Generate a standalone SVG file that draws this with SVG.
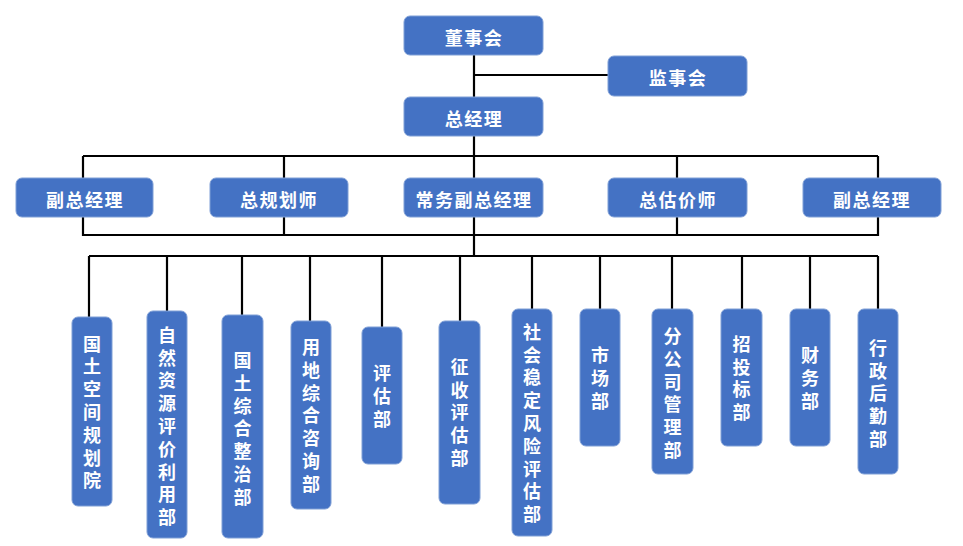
<svg xmlns="http://www.w3.org/2000/svg" width="963" height="546" viewBox="0 0 963 546">
<style>
.box{fill:#4472C4;stroke:#7F9FD6;stroke-width:1}
.t{fill:#fff;font-family:"Noto Sans CJK SC","Noto Sans",sans-serif;font-weight:bold;font-size:18px;text-anchor:middle;dominant-baseline:central}
.h{letter-spacing:1.5px}
.v{writing-mode:vertical-rl;text-orientation:upright;letter-spacing:4.8px}
.c{fill:none;stroke:#000;stroke-width:2.2}
</style>
<rect width="963" height="546" fill="#fff"/>
<g id="connectors">
<path class="c" d="M474 55V97M474 75H608M474 136V178M83 156H878M83 156V178M284 156V178M677 156V178M878 156V178M83 217V235H878V217M284 217V235M677 217V235M474 217V256M89 256H878"/>
<path class="c" d="M89 256V317M167 256V311M242 256V315M310 256V321M382 256V327M460 256V321M532 256V309M600 256V309M672 256V309M742 256V309M810 256V309M878 256V309"/>
</g>
<g id="n-dongshihui"><rect class="box" x="404" y="16" width="139" height="39" rx="6"/><text class="t h" x="474" y="37">董事会</text></g>
<g id="n-jianshihui"><rect class="box" x="608" y="56" width="139" height="40" rx="6"/><text class="t h" x="678" y="77">监事会</text></g>
<g id="n-zongjingli"><rect class="box" x="404" y="97" width="139" height="39" rx="6"/><text class="t h" x="474" y="118">总经理</text></g>
<g id="n-fuzong1"><rect class="box" x="16" y="178" width="137" height="39" rx="6"/><text class="t h" x="85" y="199">副总经理</text></g>
<g id="n-zongguihuashi"><rect class="box" x="210" y="178" width="138" height="39" rx="6"/><text class="t h" x="279" y="199">总规划师</text></g>
<g id="n-changwu"><rect class="box" x="404" y="178" width="139" height="39" rx="6"/><text class="t h" x="474" y="199">常务副总经理</text></g>
<g id="n-zonggujiashi"><rect class="box" x="608" y="178" width="139" height="39" rx="6"/><text class="t h" x="678" y="199">总估价师</text></g>
<g id="n-fuzong2"><rect class="box" x="803" y="178" width="138" height="39" rx="6"/><text class="t h" x="872" y="199">副总经理</text></g>

<g id="d1"><rect class="box" x="72" y="317" width="40" height="189" rx="6"/><text class="t v" x="92" y="414.5">国土空间规划院</text></g>
<g id="d2"><rect class="box" x="147" y="311" width="40" height="227" rx="6"/><text class="t v" x="167" y="428.5">自然资源评价利用部</text></g>
<g id="d3"><rect class="box" x="222" y="315" width="41" height="223" rx="6"/><text class="t v" x="242.5" y="431">国土综合整治部</text></g>
<g id="d4"><rect class="box" x="291" y="321" width="40" height="188" rx="6"/><text class="t v" x="311" y="418">用地综合咨询部</text></g>
<g id="d5"><rect class="box" x="362" y="327" width="40" height="137" rx="6"/><text class="t v" x="382" y="398.5">评估部</text></g>
<g id="d6"><rect class="box" x="439" y="321" width="41" height="183" rx="6"/><text class="t v" x="459.5" y="415">征收评估部</text></g>
<g id="d7"><rect class="box" x="512" y="309" width="40" height="227" rx="6"/><text class="t v" x="532" y="425.5">社会稳定风险评估部</text></g>
<g id="d8"><rect class="box" x="580" y="309" width="40" height="137" rx="6"/><text class="t v" x="600" y="380.5">市场部</text></g>
<g id="d9"><rect class="box" x="652" y="309" width="41" height="165" rx="6"/><text class="t v" x="672.5" y="395.5">分公司管理部</text></g>
<g id="d10"><rect class="box" x="721" y="309" width="41" height="137" rx="6"/><text class="t v" x="741.5" y="380.5">招投标部</text></g>
<g id="d11"><rect class="box" x="790" y="309" width="40" height="137" rx="6"/><text class="t v" x="810" y="380.5">财务部</text></g>
<g id="d12"><rect class="box" x="858" y="309" width="40" height="165" rx="6"/><text class="t v" x="878" y="396">行政后勤部</text></g>
</svg>
